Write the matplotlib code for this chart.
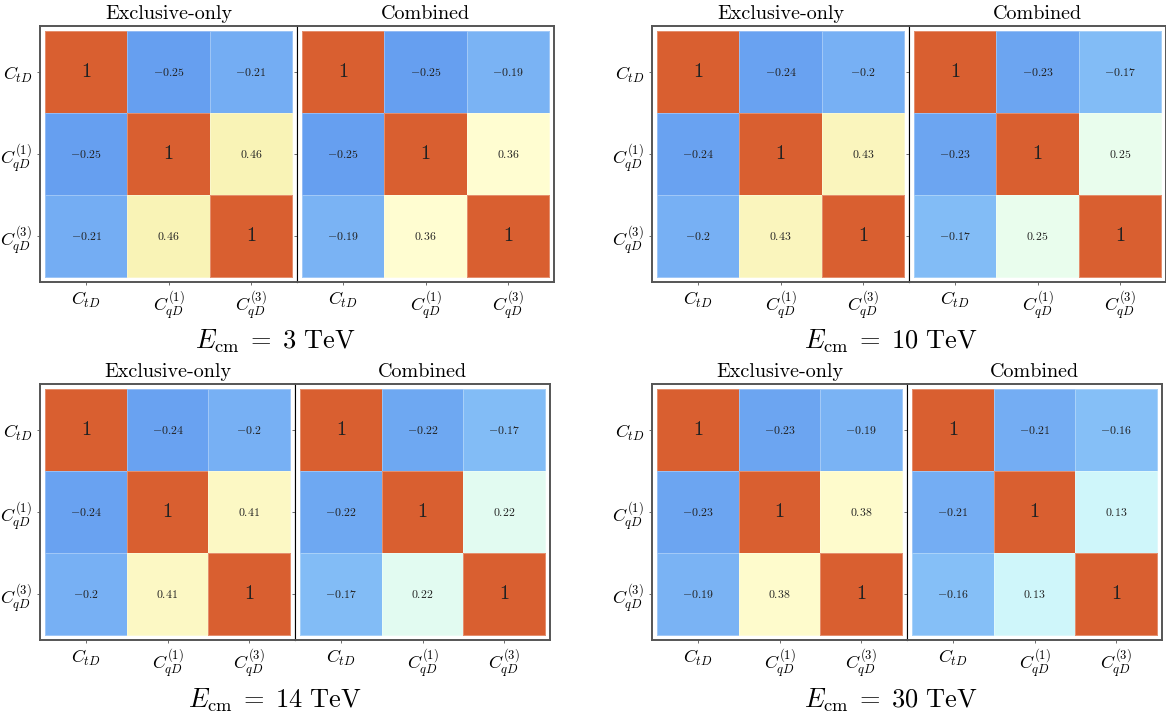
import numpy as np
import matplotlib
matplotlib.use("Agg")
import matplotlib.pyplot as plt
from matplotlib.colors import LinearSegmentedColormap, Normalize

plt.rcParams['mathtext.fontset'] = 'cm'
plt.rcParams['font.family'] = 'cmr10'
plt.rcParams['axes.unicode_minus'] = False

# off-diagonal correlations: (C_tD,C_qD1), (C_tD,C_qD3), (C_qD1,C_qD3)
energies = ["3", "10", "14", "30"]
excl_12 = [-0.25, -0.24, -0.24, -0.23]
excl_13 = [-0.21, -0.2, -0.2, -0.19]
excl_23 = [0.46, 0.43, 0.41, 0.38]
comb_12 = [-0.25, -0.23, -0.22, -0.21]
comb_13 = [-0.19, -0.17, -0.17, -0.16]
comb_23 = [0.36, 0.25, 0.22, 0.13]

labels = [r'$C_{tD}$', r'$C_{qD}^{(1)}$', r'$C_{qD}^{(3)}$']
panel_titles = ["Exclusive-only", "Combined"]

# colour scale resembling the original
cmap = LinearSegmentedColormap.from_list("corr", [
    (0.0, "#3a6fe0"),
    (0.375, "#659ef0"),
    (0.42, "#85bff7"),
    (0.565, "#cff6fa"),
    (0.625, "#e8fdee"),
    (0.68, "#fffdd2"),
    (0.73, "#f9f3b6"),
    (0.85, "#f0a868"),
    (1.0, "#d95f30"),
])
norm = Normalize(-1, 1)


def corr_matrix(a, b, c):
    return np.array([[1, a, b], [a, 1, c], [b, c, 1]], dtype=float)


def fmt(v):
    if v == 1:
        return r'$1$'
    return r'$%s$' % ('%g' % v)


def draw_panel(ax, mat, show_ylabels, outer_left):
    edges = np.arange(4) - 0.5
    ax.pcolormesh(edges, edges, mat, cmap=cmap, norm=norm,
                  edgecolors=(1, 1, 1, 0.3), linewidth=0.6)
    for i in range(3):
        for j in range(3):
            v = mat[i, j]
            size = 14.5 if v == 1 else 8.5
            ax.text(j, i, fmt(v), ha='center', va='center', fontsize=size, color='#222222')
    pad = 0.06
    ax.set_xlim(-0.5 - pad, 2.5 + pad)
    ax.set_ylim(2.5 + pad, -0.5 - pad)
    ax.set_xticks(range(3))
    ax.set_xticklabels(labels, fontsize=13)
    ax.set_yticks(range(3))
    if show_ylabels:
        ax.set_yticklabels(labels, fontsize=13)
    else:
        ax.set_yticklabels([])
    ax.tick_params(axis='both', length=2.5, width=0.6, color='#555555', pad=3)
    ax.tick_params(axis='y', right=outer_left, direction='out')
    for side in ['top', 'bottom', 'left', 'right']:
        ax.spines[side].set_color('#555555')
        ax.spines[side].set_linewidth(1.4)
    shared = 'right' if outer_left else 'left'
    ax.spines[shared].set_color('black')
    ax.spines[shared].set_linewidth(0.8)


fig = plt.figure(figsize=(11.66, 7.2), dpi=100)
W, H = 1166.0, 720.0

group_x = [40, 652, 40, 652]
group_top = [26, 26, 384, 384]
panel_w = [257, 257, 255, 255]
panel_h = 256
title_x = [275, 891, 275, 891]
title_y = [341, 341, 700, 700]

for g in range(4):
    mats = [corr_matrix(excl_12[g], excl_13[g], excl_23[g]),
            corr_matrix(comb_12[g], comb_13[g], comb_23[g])]
    pw = panel_w[g]
    for p in range(2):
        x0 = group_x[g] + p * pw
        ax = fig.add_axes([x0 / W, (H - group_top[g] - panel_h) / H, pw / W, panel_h / H])
        draw_panel(ax, mats[p], p == 0, p == 0)
        ax.set_title(panel_titles[p], fontsize=14.5, pad=5)
    fig.text(title_x[g] / W, 1 - title_y[g] / H,
             r'$E_{\mathrm{cm}}\;=\;%s\ \mathrm{TeV}$' % energies[g],
             ha='center', va='center', fontsize=19)

fig.savefig("out.png", dpi=100)
